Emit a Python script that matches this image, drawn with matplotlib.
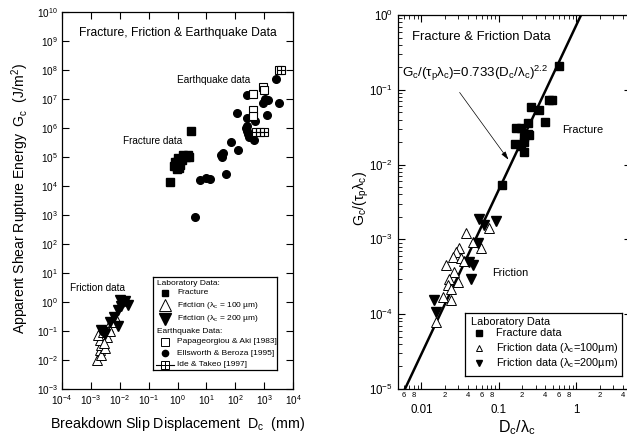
import numpy as np
import matplotlib
matplotlib.use('Agg')
import matplotlib.pyplot as plt
from matplotlib.ticker import LogLocator, FuncFormatter, NullFormatter, FixedLocator, FixedFormatter

plt.rcParams['font.family'] = ['Liberation Sans', 'DejaVu Sans']
plt.rcParams['mathtext.fontset'] = 'custom'
plt.rcParams['mathtext.rm'] = 'Liberation Sans'
plt.rcParams['mathtext.it'] = 'Liberation Sans:italic'
plt.rcParams['mathtext.default'] = 'regular'

# ---------------- data: left panel (Dc in mm, Gc in J/m^2) ----------------
frac_x = [0.55, 2.9, 0.75, 0.85, 0.95, 1.05, 1.2, 1.0, 1.6, 1.9, 2.3, 2.6, 1.4, 0.9, 1.15]
frac_G = [1.4e4, 8e5, 5.0e4, 6.5e4, 4.0e4, 7.5e4, 5.5e4, 9e4, 1.2e5, 1.0e5, 1.15e5, 1.0e5, 8e4, 5e4, 4.2e4]

fr100_x = [1.6e-3, 2.0e-3, 2.3e-3, 2.0e-3, 1.8e-3, 2.6e-3, 3.5e-3, 3.9e-3, 5.7e-3, 6.8e-3, 2.2e-3, 3.0e-3, 4.5e-3, 2.8e-3]
fr100_G = [1.0e-2, 2.2e-2, 3.3e-2, 4.9e-2, 7.2e-2, 9.3e-2, 6.3e-2, 1.4e-1, 2.1e-1, 3.1e-1, 1.5e-2, 2.5e-2, 1.0e-1, 4.0e-2]

fr200_x = [1.0e-2, 1.3e-2, 1.9e-2, 8.7e-3, 8.7e-3, 4.6e-3, 2.3e-3, 3.1e-3, 6.5e-3, 1.5e-2, 2.6e-3, 1.1e-2]
fr200_G = [1.2, 1.0, 0.8, 0.55, 0.15, 0.2, 0.11, 0.08, 0.3, 1.1, 0.09, 0.7]

pa_x = [3200, 400, 900, 1000, 400, 400]
pa_G = [1.0e8, 1.5e7, 2.5e7, 2.1e7, 4.2e6, 2.6e6]

eb_x = [4, 6, 10, 13, 32, 34, 37, 46, 70, 123, 115, 250, 260, 240, 260, 270, 290, 440, 480,
        900, 1400, 1300, 2500, 3200, 250, 1100]
eb_G = [8.5e2, 1.6e4, 1.9e4, 1.75e4, 1.2e5, 1.0e5, 1.4e5, 2.6e4, 3.3e5, 1.7e5, 3.3e6, 2.2e6,
        1.4e7, 1.0e6, 8e5, 6e5, 4.8e5, 3.9e5, 1.8e6, 7.5e6, 9.5e6, 2.8e6, 4.9e7, 7.5e6, 1.2e6, 1.0e7]

it_x = [530, 720, 1000, 3800]
it_G = [7.5e5, 7.5e5, 7.5e5, 1.0e8]

# ---------------- data: right panel (Dc/lambda_c, Gc/(tau_p lambda_c)) ----------------
rfrac_x = [0.60, 0.447, 0.49, 0.26, 0.333, 0.40, 0.235, 0.167, 0.193, 0.235, 0.248, 0.209,
           0.214, 0.163, 0.193, 0.214, 0.11]
rfrac_G = [0.21, 0.073, 0.073, 0.0594, 0.0537, 0.0375, 0.0356, 0.0305, 0.0305, 0.026, 0.0249,
           0.0236, 0.0202, 0.0189, 0.0178, 0.0149, 0.0053]

r100_x = [0.0378, 0.075, 0.046, 0.059, 0.031, 0.028, 0.0253, 0.0325, 0.0209, 0.0267, 0.023,
          0.0295, 0.022, 0.0241, 0.0188, 0.0241, 0.0155, 0.036]
r100_G = [1.2e-3, 1.4e-3, 9.3e-4, 7.6e-4, 7.6e-4, 6.8e-4, 5.9e-4, 5.6e-4, 4.55e-4, 3.7e-4,
          3.0e-4, 2.7e-4, 2.45e-4, 2.2e-4, 1.7e-4, 1.55e-4, 7.9e-5, 5.2e-4]

r200_x = [0.056, 0.065, 0.092, 0.0533, 0.0417, 0.0438, 0.0147, 0.0155, 0.047]
r200_G = [1.9e-3, 1.56e-3, 1.78e-3, 9.0e-4, 5.0e-4, 3.0e-4, 1.55e-4, 1.08e-4, 4.6e-4]

fit_coef = 0.733
fit_exp = 2.2

# ---------------- figure ----------------
W, H = 627, 442
fig = plt.figure(figsize=(W / 100, H / 100), dpi=100)


def px_axes(x0, y0, x1, y1):
    return fig.add_axes([x0 / W, 1 - y1 / H, (x1 - x0) / W, (y1 - y0) / H])


K = 'black'

# ================= LEFT PANEL =================
ax1 = px_axes(62, 12, 293, 389)
ax1.set_xscale('log')
ax1.set_yscale('log')
ax1.set_xlim(1e-4, 1e4)
ax1.set_ylim(1e-3, 1e10)
ax1.xaxis.set_major_locator(LogLocator(base=10, numticks=20))
ax1.yaxis.set_major_locator(LogLocator(base=10, numticks=20))
ax1.xaxis.set_minor_locator(FixedLocator([]))
ax1.yaxis.set_minor_locator(FixedLocator([]))
ax1.tick_params(which='major', direction='in', length=5, width=0.8, top=True, right=True,
                labelsize=7.2, pad=3)
for s in ax1.spines.values():
    s.set_linewidth(0.9)

ax1.plot(frac_x, frac_G, 's', color=K, ms=5.5, mec=K, ls='none')
ax1.plot(eb_x, eb_G, 'o', color=K, ms=5.5, ls='none')
ax1.plot(fr100_x, fr100_G, '^', mfc='white', mec=K, mew=0.7, ms=7, ls='none')
ax1.plot(fr200_x, fr200_G, 'v', color=K, ms=7, ls='none')
ax1.plot(pa_x, pa_G, 's', mfc='white', mec=K, mew=0.8, ms=6, ls='none')
ax1.plot(it_x, it_G, 's', mfc='white', mec=K, mew=0.8, ms=6, ls='none')
ax1.plot(it_x, it_G, '+', color=K, mew=0.8, ms=6, ls='none')

ax1.set_xlabel('Breakdown Slip Displacement  D$_c$  (mm)', fontsize=10.3)
ax1.xaxis.set_label_coords(0.5, -0.07)
ax1.set_ylabel('Apparent Shear Rupture Energy  G$_c$  (J/m$^2$)', fontsize=10.1)
ax1.yaxis.set_label_coords(-0.135, 0.505)

ax1.text(0.073, 0.936, 'Fracture, Friction & Earthquake Data', transform=ax1.transAxes,
         fontsize=8.7, va='baseline', ha='left')
ax1.text(0.498, 0.811, 'Earthquake data', transform=ax1.transAxes, fontsize=7.2,
         va='baseline', ha='left')
ax1.text(0.264, 0.650, 'Fracture data', transform=ax1.transAxes, fontsize=7.2,
         va='baseline', ha='left')
ax1.text(0.035, 0.261, 'Friction data', transform=ax1.transAxes, fontsize=7.2,
         va='baseline', ha='left')

# legend (left) drawn in a pixel-coordinate inset
lg = ax1.inset_axes([(153 - 62) / 231, (389 - 370) / 377, 124 / 231, 93 / 377])
lg.set_xlim(153, 277)
lg.set_ylim(370, 277)
lg.set_xticks([])
lg.set_yticks([])
for s in lg.spines.values():
    s.set_linewidth(0.9)
lfs = 6.0
mx, tx = 165, 177
lg.text(157, 284, 'Laboratory Data:', fontsize=lfs, va='center', ha='left')
lg.plot([mx], [292.7], 's', color=K, ms=4.5)
lg.text(tx, 292.7, 'Fracture', fontsize=lfs, va='center', ha='left')
lg.plot([mx], [305.5], '^', mfc='white', mec=K, mew=0.7, ms=8)
lg.text(tx, 306, 'Friction (λ$_c$ = 100 µm)', fontsize=lfs, va='center', ha='left')
lg.plot([mx], [319], 'v', color=K, ms=8)
lg.text(tx, 319, 'Friction (λ$_c$ = 200 µm)', fontsize=lfs, va='center', ha='left')
lg.text(157, 331.7, 'Earthquake Data:', fontsize=lfs, va='center', ha='left')
lg.plot([mx], [342], 's', mfc='white', mec=K, mew=0.7, ms=5.5)
lg.text(tx, 341.7, 'Papageorgiou & Aki [1983]', fontsize=lfs, va='center', ha='left')
lg.plot([mx], [353.3], 'o', color=K, ms=4.5)
lg.text(tx, 353.3, 'Ellsworth & Beroza [1995]', fontsize=lfs, va='center', ha='left')
lg.plot([156, 174], [365, 365], '-', color=K, lw=0.8)
lg.plot([mx], [365], 's', mfc='white', mec=K, mew=0.7, ms=5.5)
lg.plot([mx], [365], '+', color=K, mew=0.7, ms=5.5)
lg.text(tx, 365, 'Ide & Takeo [1997]', fontsize=lfs, va='center', ha='left')

# ================= RIGHT PANEL =================
ax2 = px_axes(398, 15, 630.5, 389)
ax2.set_xscale('log')
ax2.set_yscale('log')
ax2.set_xlim(0.005, 5)
ax2.set_ylim(1e-5, 1)
ax2.xaxis.set_major_locator(FixedLocator([0.01, 0.1, 1]))
ax2.xaxis.set_major_formatter(FixedFormatter(['0.01', '0.1', '1']))
ax2.xaxis.set_minor_locator(LogLocator(base=10, subs=np.arange(2, 10), numticks=20))


def minor_fmt(v, pos):
    lead = int(round(v / 10 ** np.floor(np.log10(v) + 1e-9)))
    return str(lead) if lead in (2, 4, 6, 8) else ''


ax2.xaxis.set_minor_formatter(FuncFormatter(minor_fmt))
ax2.yaxis.set_major_locator(LogLocator(base=10, numticks=20))
ax2.yaxis.set_minor_locator(LogLocator(base=10, subs=np.arange(2, 10), numticks=20))
ax2.yaxis.set_minor_formatter(NullFormatter())
ax2.tick_params(which='major', direction='in', length=5, width=0.8, top=True, right=True,
                labelsize=8.3)
ax2.tick_params(axis='x', which='major', pad=11)
ax2.tick_params(which='minor', direction='in', length=2.8, width=0.6, top=True, right=True,
                labelsize=5.5)
ax2.tick_params(axis='x', which='minor', pad=2)
for s in ax2.spines.values():
    s.set_linewidth(0.9)

xx = np.logspace(np.log10(0.005), np.log10(5), 200)
ax2.plot(xx, fit_coef * xx ** fit_exp, '-', color=K, lw=1.8)
ax2.plot(rfrac_x, rfrac_G, 's', color=K, ms=6, ls='none')
ax2.plot(r100_x, r100_G, '^', mfc='white', mec=K, mew=0.7, ms=7, ls='none')
ax2.plot(r200_x, r200_G, 'v', color=K, ms=7, ls='none')

ax2.set_xlabel('D$_c$/λ$_c$', fontsize=11.5)
ax2.xaxis.set_label_coords(0.512, -0.078)
ax2.set_ylabel('G$_c$/(τ$_p$λ$_c$)', fontsize=10.2)
ax2.yaxis.set_label_coords(-0.115, 0.51)

ax2.text(0.060, 0.933, 'Fracture & Friction Data', transform=ax2.transAxes, fontsize=9.4,
         va='baseline', ha='left')
ax2.text(0.017, 0.835, 'G$_c$/(τ$_p$λ$_c$)=0.733(D$_c$/λ$_c$)$^{2.2}$', transform=ax2.transAxes,
         fontsize=9.6, va='baseline', ha='left')
ax2.annotate('', xy=(0.482, 0.607), xytext=(0.258, 0.799), xycoords='axes fraction',
             textcoords='axes fraction',
             arrowprops=dict(arrowstyle='-|>,head_length=0.5,head_width=0.15', color=K, lw=0.5))
ax2.text(0.704, 0.684, 'Fracture', transform=ax2.transAxes, fontsize=7.9, va='baseline',
         ha='left')
ax2.text(0.403, 0.302, 'Friction', transform=ax2.transAxes, fontsize=7.9, va='baseline',
         ha='left')

# legend (right)
lg2 = ax2.inset_axes([(465 - 398) / 232.5, (389 - 376) / 374, 157 / 232.5, 63 / 374])
lg2.set_xlim(465, 622)
lg2.set_ylim(376, 313)
lg2.set_xticks([])
lg2.set_yticks([])
for s in lg2.spines.values():
    s.set_linewidth(0.9)
rfs = 7.9
lg2.text(471, 321.7, 'Laboratory Data', fontsize=rfs, va='center', ha='left')
lg2.plot([479], [333.5], 's', color=K, ms=4)
lg2.text(496, 333.5, 'Fracture data', fontsize=rfs, va='center', ha='left')
lg2.plot([479], [348.3], '^', mfc='white', mec=K, mew=0.7, ms=5)
lg2.text(496, 348.3, 'Friction data (λ$_c$=100µm)', fontsize=rfs, va='center', ha='left')
lg2.plot([479], [363.5], 'v', color=K, ms=5)
lg2.text(496, 363.5, 'Friction data (λ$_c$=200µm)', fontsize=rfs, va='center', ha='left')

fig.savefig('out.png', dpi=100)
